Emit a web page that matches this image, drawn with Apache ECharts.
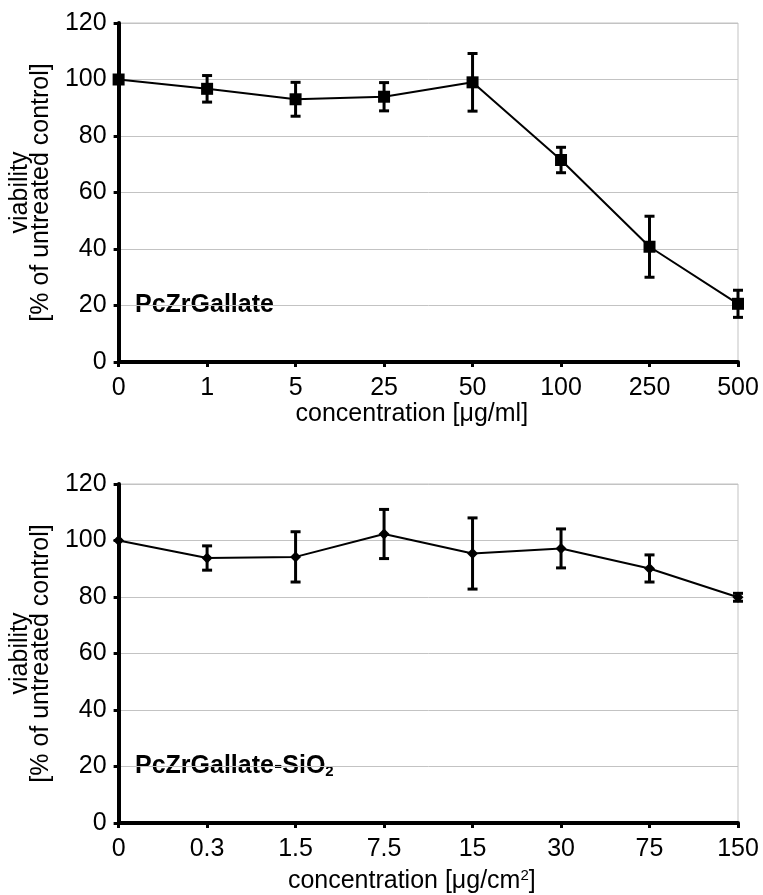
<!DOCTYPE html>
<html>
<head>
<meta charset="utf-8">
<script src="https://cdn.jsdelivr.net/npm/echarts@6/dist/echarts.min.js"></script>
<style>
html,body{margin:0;padding:0;background:#fff;}
#chart{width:763px;height:895px;}
</style>
</head>
<body>
<div id="chart"></div>
<script>
// Top panel: PcZrGallate
const catsTop = ['0', '1', '5', '25', '50', '100', '250', '500'];
const meanTop = [100, 96.7, 93.0, 93.9, 99.0, 71.5, 40.8, 20.6];
const errTop  = [0, 4.7, 6.0, 5.0, 10.2, 4.5, 10.8, 4.8];

// Bottom panel: PcZrGallate-SiO2
const catsBot = ['0', '0.3', '1.5', '7.5', '15', '30', '75', '150'];
const meanBot = [100, 93.8, 94.2, 102.3, 95.4, 97.2, 90.1, 79.9];
const errBot  = [0, 4.3, 8.9, 8.7, 12.6, 6.9, 4.8, 1.4];

const yTicks = [0, 20, 40, 60, 80, 100, 120];

const FONT = 'Liberation Sans';
const FS = 25;

function errData(mean, err) {
  return mean.map((m, i) => [i, m - err[i], m + err[i]]);
}

function errRender(params, api) {
  const x = api.value(0);
  const lo = api.coord([x, api.value(1)]);
  const hi = api.coord([x, api.value(2)]);
  if (Math.abs(hi[1] - lo[1]) < 0.5) return null;
  const w = 5;
  const style = {stroke: '#000', lineWidth: 3};
  return {
    type: 'group',
    children: [
      {type: 'line', shape: {x1: hi[0], y1: hi[1], x2: lo[0], y2: lo[1]}, style: style},
      {type: 'line', shape: {x1: hi[0] - w, y1: hi[1], x2: hi[0] + w, y2: hi[1]}, style: style},
      {type: 'line', shape: {x1: lo[0] - w, y1: lo[1], x2: lo[0] + w, y2: lo[1]}, style: style}
    ]
  };
}

function xAxis(idx, cats, nameRich, nameGap) {
  return {
    type: 'category', gridIndex: idx, data: cats, boundaryGap: false,
    axisLine: {lineStyle: {color: '#000', width: 4}},
    axisTick: {show: true, length: 5, lineStyle: {color: '#000', width: 3}},
    axisLabel: {color: '#000', fontFamily: FONT, fontSize: FS, margin: 14},
    splitLine: {show: false},
    name: nameRich.text, nameLocation: 'middle', nameGap: nameGap,
    nameTextStyle: {
      color: '#000', fontFamily: FONT, fontSize: FS,
      padding: [0, 33, 0, 0],
      rich: nameRich.rich
    }
  };
}

function yAxis(idx) {
  return {
    type: 'value', gridIndex: idx, min: yTicks[0], max: yTicks[yTicks.length - 1], interval: 20,
    axisLine: {show: true, lineStyle: {color: '#000', width: 4}},
    axisTick: {show: true, length: 5, lineStyle: {color: '#000', width: 3}},
    axisLabel: {color: '#000', fontFamily: FONT, fontSize: FS, margin: 12},
    splitLine: {show: true, lineStyle: {color: '#c3c3c3', width: 1}},
    name: 'viability\n[% of untreated control]',
    nameLocation: 'middle', nameRotate: 90, nameGap: 63,
    nameTextStyle: {color: '#000', fontFamily: FONT, fontSize: FS, lineHeight: 21, align: 'center'}
  };
}

const supRich = {
  sup: {fontFamily: FONT, fontSize: 15, color: '#000', verticalAlign: 'top', padding: [0, 0, 12, 0]},
  n: {fontFamily: FONT, fontSize: FS, color: '#000'}
};

const option = {
  animation: false,
  backgroundColor: '#fff',
  grid: [
    {left: 117, top: 23, right: 25, height: 339, show: true, borderColor: '#c3c3c3', borderWidth: 1},
    {left: 117, top: 484, right: 25, height: 339, show: true, borderColor: '#c3c3c3', borderWidth: 1}
  ],
  xAxis: [
    xAxis(0, catsTop, {text: 'concentration [\u03bcg/ml]'}, 39),
    xAxis(1, catsBot, {text: '{n|concentration [\u03bcg/cm}{sup|2}{n|]}', rich: supRich}, 45)
  ],
  yAxis: [yAxis(0), yAxis(1)],
  graphic: [
    {type: 'text', left: 135, top: 293,
     style: {text: 'PcZrGallate', font: 'bold 25px "Liberation Sans"', fill: '#000'}},
    {type: 'text', left: 135, top: 754,
     style: {
       text: '{b|PcZrGallate-SiO}{s|2}',
       rich: {
         b: {font: 'bold 25px "Liberation Sans"', fill: '#000'},
         s: {font: 'bold 15px "Liberation Sans"', fill: '#000', verticalAlign: 'bottom', padding: [9, 0, 0, 0]}
       }
     }}
  ],
  series: [
    {
      type: 'custom', xAxisIndex: 0, yAxisIndex: 0, renderItem: errRender,
      data: errData(meanTop, errTop), encode: {x: 0, y: [1, 2]}, z: 3, clip: false
    },
    {
      type: 'line', xAxisIndex: 0, yAxisIndex: 0, data: meanTop,
      symbol: 'rect', symbolSize: 12, clip: false, z: 4,
      lineStyle: {color: '#000', width: 2}, itemStyle: {color: '#000'}
    },
    {
      type: 'custom', xAxisIndex: 1, yAxisIndex: 1, renderItem: errRender,
      data: errData(meanBot, errBot), encode: {x: 0, y: [1, 2]}, z: 3, clip: false
    },
    {
      type: 'line', xAxisIndex: 1, yAxisIndex: 1, data: meanBot,
      symbol: 'diamond', symbolSize: 11, clip: false, z: 4,
      lineStyle: {color: '#000', width: 2}, itemStyle: {color: '#000'}
    }
  ]
};

const chart = echarts.init(document.getElementById('chart'), null, {renderer: 'canvas'});
chart.setOption(option);
</script>
</body>
</html>
